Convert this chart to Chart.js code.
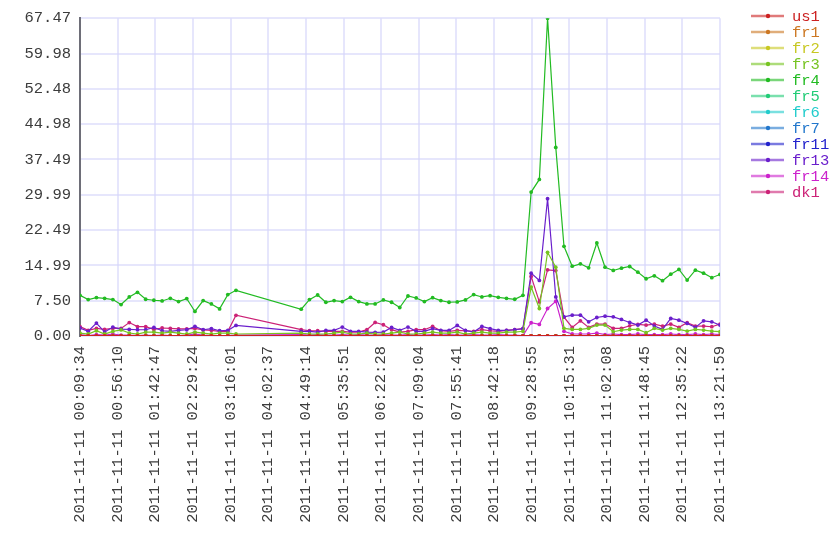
<!DOCTYPE html>
<html>
<head>
<meta charset="utf-8">
<script src="https://cdn.jsdelivr.net/npm/chart.js@4"></script>
<style>
  html, body { margin: 0; padding: 0; background: #fff; }
</style>
</head>
<body>
<canvas id="chart" width="840" height="560"></canvas>
<script>
const day = '2011-11-11';

// sample times (one every ~10 min, with a gap between 03:22 and 04:43)
const times = [
  '00:09:34', '00:19:44', '00:29:54', '00:40:04', '00:50:14', '01:00:24', '01:10:34', '01:20:44', '01:30:54', '01:41:04',
  '01:51:14', '02:01:24', '02:11:34', '02:21:44', '02:31:54', '02:42:04', '02:52:14', '03:02:24', '03:12:34', '03:22:44',
  '04:43:29', '04:53:39', '05:03:49', '05:13:59', '05:24:09', '05:34:19', '05:44:29', '05:54:39', '06:04:49', '06:14:59',
  '06:25:09', '06:35:19', '06:45:29', '06:55:39', '07:05:49', '07:15:59', '07:26:09', '07:36:19', '07:46:29', '07:56:39',
  '08:06:49', '08:16:59', '08:27:09', '08:37:19', '08:47:29', '08:57:39', '09:07:49', '09:17:59', '09:28:09', '09:38:19',
  '09:48:29', '09:58:39', '10:08:49', '10:18:59', '10:29:09', '10:39:19', '10:49:29', '10:59:39', '11:09:49', '11:19:59',
  '11:30:09', '11:40:19', '11:50:29', '12:00:39', '12:10:49', '12:20:59', '12:31:09', '12:41:19', '12:51:29', '13:01:39',
  '13:11:49', '13:21:59'
];

const xTickLabels = ['00:09:34', '00:56:10', '01:42:47', '02:29:24', '03:16:01', '04:02:37', '04:49:14', '05:35:51', '06:22:28',
  '07:09:04', '07:55:41', '08:42:18', '09:28:55', '10:15:31', '11:02:08', '11:48:45', '12:35:22', '13:21:59'];
const yTicks = [0, 7.50, 14.99, 22.49, 29.99, 37.49, 44.98, 52.48, 59.98, 67.474];

const names = ['us1', 'fr1', 'fr2', 'fr3', 'fr4', 'fr5', 'fr6', 'fr7', 'fr11', 'fr13', 'fr14', 'dk1'];
const colors = ['#cc2222', '#cc7722', '#c8c822', '#77c422', '#22bb22', '#22cc77', '#22cccc', '#2277cc',
  '#2222cc', '#6a1fcc', '#cc22cc', '#cc2277'];

const zero = [
  0, 0, 0, 0, 0, 0, 0, 0, 0, 0, 0, 0, 0, 0, 0, 0, 0, 0, 0, 0,
  0, 0, 0, 0, 0, 0, 0, 0, 0, 0, 0, 0, 0, 0, 0, 0, 0, 0, 0, 0, 0, 0, 0, 0, 0, 0, 0, 0, 0, 0,
  0, 0, 0, 0, 0, 0, 0, 0, 0, 0, 0, 0, 0, 0, 0, 0, 0, 0, 0, 0, 0, 0
];
const us1 = zero, fr1 = zero, fr2 = zero, fr5 = zero, fr6 = zero, fr7 = zero, fr11 = zero;

const fr3 = [
  0.63, 0.42, 1.12, 0.42, 0.98, 1.3, 0.63, 0.42, 0.84, 0.84, 0.63, 0.84, 0.63, 0.42, 0.84, 0.63, 0.42, 0.63, 0.63, 0.42,
  0.63, 0.42, 0.42, 0.42, 0.63, 0.84, 0.42, 0.42, 0.63, 0.42, 0.42, 0.63, 0.84, 0.42, 0.42, 0.63, 0.84, 0.63, 0.63, 0.84,
  0.42, 0.63, 0.84, 0.63, 0.63, 0.84, 0.84, 1.0, 10.4, 5.84, 17.78, 14.61,
  1.62, 1.40, 1.40, 1.62, 2.32, 2.32, 0.91, 1.26, 1.40, 1.40, 0.70, 1.62, 1.26, 1.62, 1.40, 1.05, 1.40, 1.26, 1.05, 0.91
];
const fr4 = [
  8.64, 7.73, 8.16, 8.01, 7.73, 6.68, 8.29, 9.28, 7.80, 7.59, 7.44, 8.01, 7.31, 7.94, 5.21, 7.52, 6.81, 5.76, 8.79, 9.70,
  5.69, 7.73, 8.71, 7.17, 7.52, 7.31, 8.22, 7.31, 6.81, 6.81, 7.66, 7.17, 6.05, 8.50, 8.08, 7.31, 8.15, 7.52, 7.17, 7.24,
  7.66, 8.79, 8.29, 8.57, 8.22, 8.01, 7.80, 8.64, 30.57, 33.25, 67.474, 40.06,
  19.04, 14.82, 15.33, 14.48, 19.76, 14.61, 13.92, 14.40, 14.76, 13.56, 12.16, 12.79, 11.74, 13.13, 14.13, 11.87, 13.98, 13.35, 12.38, 13.07
];
const fr13 = [
  1.7, 1.0, 2.74, 0.84, 1.9, 1.48, 1.4, 1.33, 1.33, 1.83, 1.12, 0.98, 1.19, 1.33, 2.04, 1.33, 1.55, 1.12, 1.19, 2.25,
  0.98, 0.98, 0.84, 1.19, 1.19, 1.9, 0.98, 0.98, 0.84, 0.77, 0.84, 1.83, 1.19, 1.9, 0.98, 0.98, 1.55, 1.19, 1.19, 2.25,
  1.19, 0.84, 2.04, 1.55, 1.19, 1.19, 1.33, 1.55, 13.35, 11.8, 29.16, 8.29,
  4.07, 4.43, 4.43, 3.02, 3.93, 4.22, 4.07, 3.51, 2.88, 2.32, 3.37, 2.11, 1.40, 3.72, 3.37, 2.67, 1.83, 3.23, 3.02, 2.32
];
const fr14 = [
  0.3, 0.1, 0.3, 0.2, 0.4, 0.2, 0.2, 0.1, 0.2, 0.1, 0.2, 0.1, 0.1, 0.2, 0.4, 0.2, 0.1, 0.1, 0.1, 0.2,
  0.3, 0.2, 0.3, 0.2, 0.2, 0.3, 0.2, 0.3, 0.2, 0.2, 0.3, 0.2, 0.2, 0.3, 0.2, 0.2, 0.3, 0.2, 0.3, 0.2,
  0.2, 0.3, 0.2, 0.2, 0.3, 0.2, 0.2, 0.1, 2.81, 2.46, 5.84, 7.38,
  1.0, 0.42, 0.42, 0.42, 0.63, 0.3, 0.42, 0.3, 0.3, 0.42, 0.3, 0.3, 0.3, 0.42, 0.3, 0.3, 0.42, 0.3, 0.42, 0.3
];
const dk1 = [
  2.0, 1.2, 1.6, 1.4, 1.6, 1.6, 2.85, 2.0, 2.0, 1.4, 1.7, 1.6, 1.5, 1.5, 1.6, 1.3, 1.2, 1.0, 1.0, 4.4,
  1.34, 1.12, 1.12, 0.98, 0.98, 0.98, 0.84, 0.84, 1.34, 2.88, 2.39, 1.34, 0.84, 0.98, 1.34, 1.34, 2.04, 1.12, 0.98, 1.2,
  1.12, 0.98, 1.34, 1.12, 0.98, 1.2, 1.34, 1.55, 12.65, 7.24, 14.05, 13.9,
  4.0, 1.83, 3.23, 1.83, 2.53, 2.53, 1.62, 1.62, 2.17, 2.46, 2.32, 2.53, 2.11, 2.53, 1.83, 2.81, 2.11, 2.11, 1.97, 2.53
];

const seriesValues = [us1, fr1, fr2, fr3, fr4, fr5, fr6, fr7, fr11, fr13, fr14, dk1];

function toSec(t) {
  const p = t.split(':').map(Number);
  return p[0] * 3600 + p[1] * 60 + p[2];
}
const xs = times.map(toSec);
const xTickValues = xTickLabels.map(toSec);

const monoFont = "'Liberation Mono', 'DejaVu Sans Mono', monospace";
const gridColor = 'rgba(214,214,250,0.6)';

const datasets = names.map((name, i) => ({
  label: name,
  data: seriesValues[i].map((v, j) => ({ x: xs[j], y: v })),
  borderColor: colors[i],
  backgroundColor: colors[i],
  borderWidth: name === 'us1' ? 1.8 : 1.2,
  pointRadius: 1.9,
  pointBorderWidth: 0,
  pointBackgroundColor: colors[i],
  tension: 0
}));

// legend on the right: short line with a dot, label in series colour
const sideLegend = {
  id: 'sideLegend',
  afterDraw(chart) {
    const ctx = chart.ctx;
    const left = chart.chartArea.right + 31;
    ctx.save();
    ctx.font = '15.5px ' + monoFont;
    ctx.textBaseline = 'middle';
    names.forEach((name, i) => {
      const y = 16 + i * 16;
      ctx.globalAlpha = 0.6;
      ctx.strokeStyle = colors[i];
      ctx.lineWidth = 2.5;
      ctx.beginPath();
      ctx.moveTo(left, y);
      ctx.lineTo(left + 33, y);
      ctx.stroke();
      ctx.globalAlpha = 1;
      ctx.fillStyle = colors[i];
      ctx.beginPath();
      ctx.arc(left + 17, y, 2.2, 0, Math.PI * 2);
      ctx.fill();
      ctx.fillText(name, left + 41, y + 1);
    });
    ctx.restore();
  }
};

new Chart(document.getElementById('chart'), {
  type: 'line',
  data: { datasets },
  plugins: [sideLegend],
  options: {
    responsive: false,
    animation: false,
    layout: { padding: { top: 16, right: 120, left: 0, bottom: 0 } },
    plugins: { legend: { display: false }, tooltip: { enabled: false } },
    scales: {
      x: {
        type: 'linear',
        min: xs[0],
        max: xs[xs.length - 1],
        afterBuildTicks: (scale) => { scale.ticks = xTickValues.map(v => ({ value: v })); },
        afterFit: (scale) => { scale.height = 224; },
        ticks: {
          minRotation: 90,
          maxRotation: 90,
          padding: 10,
          color: '#3c3c3c',
          font: { family: monoFont, size: 15.5 },
          callback: (v) => {
            const i = xTickValues.indexOf(v);
            return i >= 0 ? day + ' ' + xTickLabels[i] : '';
          }
        },
        grid: { color: gridColor, lineWidth: 2, drawTicks: false },
        border: { display: false }
      },
      y: {
        min: 0,
        max: yTicks[yTicks.length - 1],
        afterBuildTicks: (scale) => { scale.ticks = yTicks.map(v => ({ value: v })); },
        afterFit: (scale) => { scale.width = 80; },
        ticks: {
          padding: 9,
          color: '#3c3c3c',
          font: { family: monoFont, size: 15.5 },
          callback: (v) => v.toFixed(2)
        },
        grid: { color: gridColor, lineWidth: 2, drawTicks: false },
        border: { color: '#6e6e78', width: 2 }
      }
    }
  }
});
</script>
</body>
</html>
